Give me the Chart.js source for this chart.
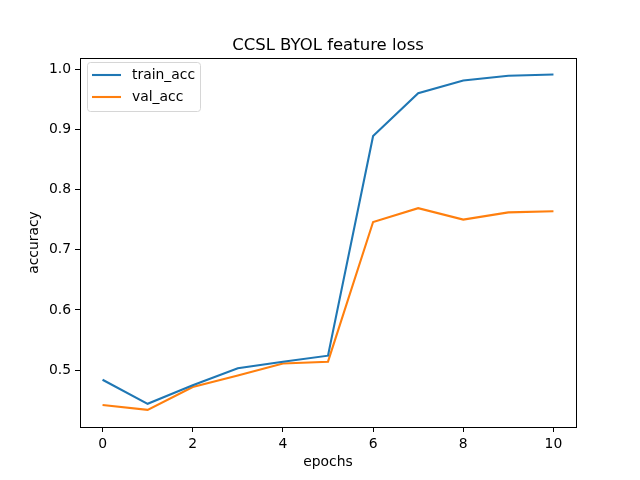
<!DOCTYPE html>
<html>
<head>
<meta charset="utf-8">
<script src="https://cdn.jsdelivr.net/npm/chart.js@4"></script>
<style>
  html, body { margin: 0; padding: 0; background: #fff; }
  #box { width: 640px; height: 480px; }
</style>
</head>
<body>
<div id="box"><canvas id="myChart" width="640" height="480"></canvas></div>
<script>
const epochs = [0, 1, 2, 3, 4, 5, 6, 7, 8, 9, 10];
const trainAcc = [0.484, 0.444, 0.475, 0.503, 0.514, 0.524, 0.889, 0.960, 0.981, 0.989, 0.991];
const valAcc = [0.442, 0.434, 0.472, 0.491, 0.511, 0.514, 0.746, 0.769, 0.750, 0.762, 0.764];
const xTicks = [0, 2, 4, 6, 8, 10];
const yTicks = [0.5, 0.6, 0.7, 0.8, 0.9, 1.0];

const FONT = "'DejaVu Sans', sans-serif";

// title, frame and legend drawn matplotlib style
const mplBits = {
  id: 'mplBits',
  afterDraw(chart) {
    const ctx = chart.ctx;
    const a = chart.chartArea;
    ctx.save();
    // axes frame
    ctx.strokeStyle = '#000';
    ctx.lineWidth = 1;
    ctx.strokeRect(Math.round(a.left) + 0.5, Math.round(a.top) + 0.5,
                   Math.round(a.right - a.left), Math.round(a.bottom - a.top));
    // title
    ctx.fillStyle = '#000';
    ctx.font = '16.5px ' + FONT;
    ctx.textAlign = 'center';
    ctx.textBaseline = 'alphabetic';
    ctx.fillText('CCSL BYOL feature loss', (a.left + a.right) / 2, a.top - 8);
    // legend
    const lx = a.left + 7, ly = a.top + 4, lw = 113, lh = 49;
    ctx.beginPath();
    ctx.roundRect(lx + 0.5, ly + 0.5, lw, lh, 3);
    ctx.fillStyle = 'rgba(255,255,255,0.8)';
    ctx.fill();
    ctx.strokeStyle = '#d6d6d6';
    ctx.stroke();
    ctx.font = '13.9px ' + FONT;
    ctx.textAlign = 'left';
    ctx.textBaseline = 'middle';
    chart.data.datasets.forEach((ds, i) => {
      const yy = ly + 13 + i * 22;
      ctx.beginPath();
      ctx.strokeStyle = ds.borderColor;
      ctx.lineWidth = 2.1;
      ctx.moveTo(lx + 5, yy);
      ctx.lineTo(lx + 34, yy);
      ctx.stroke();
      ctx.fillStyle = '#000';
      ctx.fillText(ds.label, lx + 45, yy);
    });
    ctx.restore();
  }
};

let ctx = document.getElementById('myChart');

let data = {
  datasets: [
    {
      label: 'train_acc',
      data: epochs.map((e, i) => ({ x: e, y: trainAcc[i] })),
      borderColor: '#1f77b4',
      backgroundColor: '#1f77b4',
    },
    {
      label: 'val_acc',
      data: epochs.map((e, i) => ({ x: e, y: valAcc[i] })),
      borderColor: '#ff7f0e',
      backgroundColor: '#ff7f0e',
    }]
};

new Chart(ctx, {
  type: 'line',
  data: data,
  plugins: [mplBits],
  options: {
    responsive: false,
    animation: false,
    layout: { padding: { left: 0, right: 64, top: 58, bottom: 0 } },
    elements: {
      point: { radius: 0 },
      line: { borderWidth: 2.1, tension: 0 }
    },
    plugins: {
      legend: { display: false },
      tooltip: { enabled: false }
    },
    scales: {
      x: {
        type: 'linear',
        min: -0.5,
        max: 10.5,
        afterBuildTicks: s => { s.ticks = xTicks.map(v => ({ value: v })); },
        afterFit: s => { s.height = 53; },
        grid: { drawOnChartArea: false, tickLength: 5, tickColor: '#000', color: '#000' },
        border: { color: '#000' },
        ticks: {
          color: '#000', padding: 4, maxRotation: 0,
          font: { family: FONT, size: 13.9 },
          callback: v => String(v)
        },
        title: {
          display: true, text: 'epochs', color: '#000',
          font: { family: FONT, size: 13.9 },
          padding: { top: 0, bottom: 9 }
        }
      },
      y: {
        type: 'linear',
        min: 0.4055,
        max: 1.0185,
        afterBuildTicks: s => { s.ticks = yTicks.map(v => ({ value: v })); },
        afterFit: s => { s.width = 80; },
        grid: { drawOnChartArea: false, tickLength: 5, tickColor: '#000', color: '#000' },
        border: { color: '#000' },
        ticks: {
          color: '#000', padding: 4,
          font: { family: FONT, size: 13.9 },
          callback: v => v.toFixed(1)
        },
        title: {
          display: true, text: 'accuracy', color: '#000',
          font: { family: FONT, size: 13.9 },
          padding: { top: 26, bottom: 0 }
        }
      }
    }
  }
});
</script>
</body>
</html>
